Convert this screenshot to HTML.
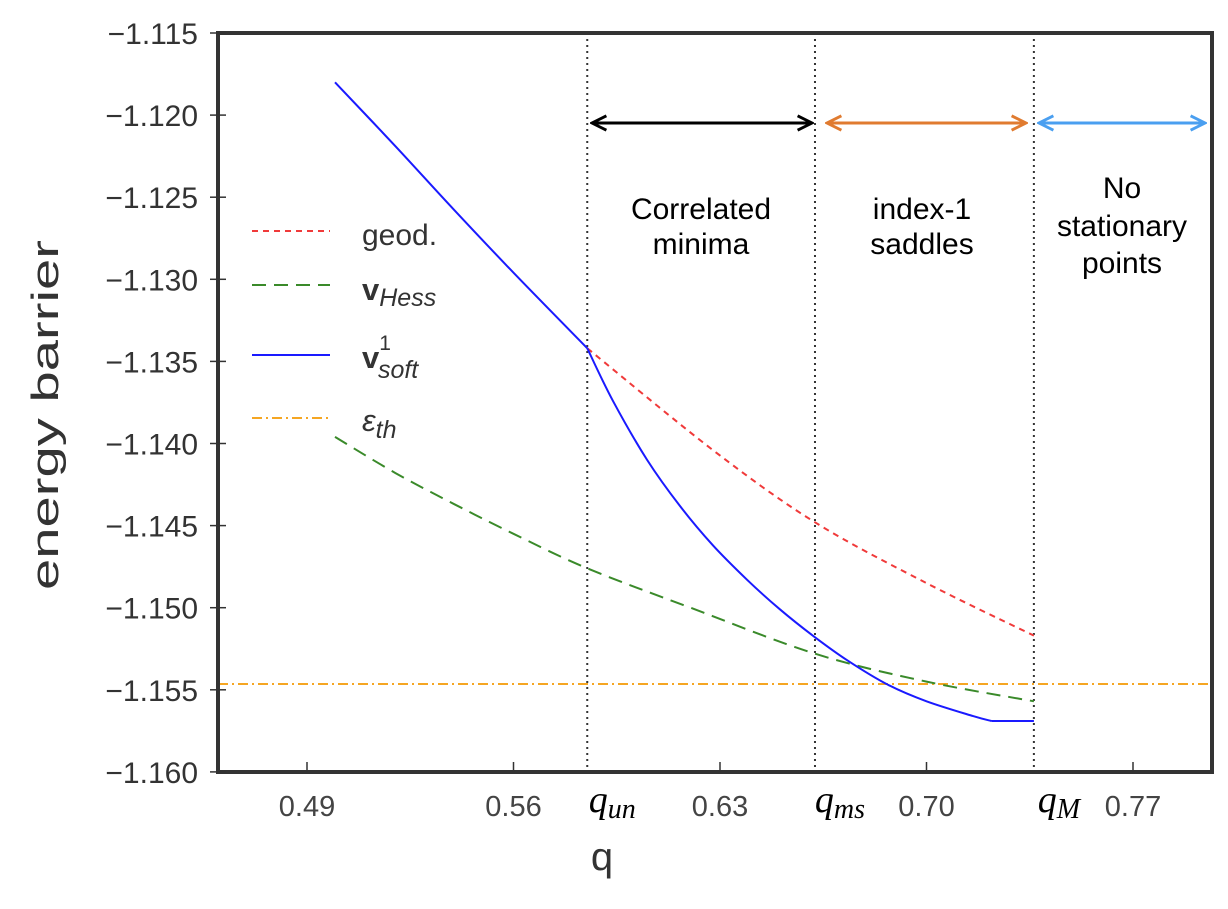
<!DOCTYPE html>
<html><head><meta charset="utf-8"><style>
body{margin:0;background:#fff;}
svg text{font-family:"Liberation Sans",sans-serif;}
</style></head><body>
<svg id="chart" width="1228" height="904" viewBox="0 0 1228 904" xmlns="http://www.w3.org/2000/svg">
<defs>
<marker id="ahK" viewBox="0 0 10 10" refX="9" refY="5" markerWidth="6" markerHeight="6" orient="auto-start-reverse"><path d="M1,1 L9,5 L1,9" fill="none" stroke="#000" stroke-width="1.6"/></marker>
<marker id="ahO" viewBox="0 0 10 10" refX="9" refY="5" markerWidth="6" markerHeight="6" orient="auto-start-reverse"><path d="M1,1 L9,5 L1,9" fill="none" stroke="#e07b30" stroke-width="1.6"/></marker>
<marker id="ahB" viewBox="0 0 10 10" refX="9" refY="5" markerWidth="6" markerHeight="6" orient="auto-start-reverse"><path d="M1,1 L9,5 L1,9" fill="none" stroke="#4a9ff0" stroke-width="1.6"/></marker>
</defs>
<g id="plot"></g>
</svg>
<script>
const xTicks=[0.49,0.56,0.63,0.70,0.77];
const xTickLabels=["0.49","0.56","0.63","0.70","0.77"];
const yTicks=[-1.115,-1.120,-1.125,-1.130,-1.135,-1.140,-1.145,-1.150,-1.155,-1.160];
const yTickLabels=["\u22121.115","\u22121.120","\u22121.125","\u22121.130","\u22121.135","\u22121.140","\u22121.145","\u22121.150","\u22121.155","\u22121.160"];
const markers=[0.585,0.6622,0.7364];
const markerLabels=["un","ms","M"];
const softUpperQ=[0.4995,0.52,0.54,0.56,0.585];
const softUpperV=[-1.1180,-1.1219,-1.1258,-1.1296,-1.1342];
const softQ=[0.585,0.5937,0.6053,0.6164,0.6276,0.6392,0.6503,0.6622,0.6731,0.687,0.70,0.7158,0.722];
const softV=[-1.1342,-1.1374,-1.1410,-1.1438,-1.1462,-1.1483,-1.1501,-1.1518,-1.1532,-1.1547,-1.1557,-1.1566,-1.1569];
const softFlatQ=[0.722,0.7364];
const softFlatV=[-1.1569,-1.1569];
const geodQ=[0.585,0.6276,0.6622,0.70,0.7364];
const geodV=[-1.1342,-1.1404,-1.1448,-1.1485,-1.1517];
const hessQ=[0.4995,0.52,0.54,0.56,0.585,0.62,0.6622,0.70,0.7364];
const hessV=[-1.1396,-1.1418,-1.1437,-1.1455,-1.1476,-1.1500,-1.1528,-1.1545,-1.1557];
const epsTh=-1.15465;

const L=218,R=1212,T=33,B=772;
const X=q=>307+(q-0.49)*2950;
const Y=v=>33+(-1.115-v)/0.005*82.1;
const NS="http://www.w3.org/2000/svg";
const svg=document.getElementById('chart');
const g=document.getElementById('plot');
function mk(tag,attrs,parent){const e=document.createElementNS(NS,tag);for(const k in attrs)e.setAttribute(k,attrs[k]);(parent||g).appendChild(e);return e;}
function smooth(qs,vs){
 const p=qs.map((q,i)=>[X(q),Y(vs[i])]);
 let d='M'+p[0][0].toFixed(1)+','+p[0][1].toFixed(1);
 for(let i=0;i<p.length-1;i++){
  const p0=p[i-1]||p[i],p1=p[i],p2=p[i+1],p3=p[i+2]||p[i+1];
  const c1=[p1[0]+(p2[0]-p0[0])/6,p1[1]+(p2[1]-p0[1])/6];
  const c2=[p2[0]-(p3[0]-p1[0])/6,p2[1]-(p3[1]-p1[1])/6];
  d+=' C'+c1.map(v=>v.toFixed(1)).join(',')+' '+c2.map(v=>v.toFixed(1)).join(',')+' '+p2[0].toFixed(1)+','+p2[1].toFixed(1);
 }
 return d;
}

markers.forEach((m,i)=>{
 const l=mk('line',{x1:X(m),x2:X(m),y1:T,y2:B,stroke:'#333','stroke-width':2,'stroke-dasharray':'2,4'});
 
 
 const t=mk('text',{x:X(m)+25,y:812,'text-anchor':'middle','font-size':38,'font-style':'italic',style:'font-family:"Liberation Serif",serif'},svg);
 
 
 t.innerHTML='q<tspan font-size="28" dy="6">'+markerLabels[i]+'</tspan>';
});
const eps=mk('line',{x1:L,x2:R,y1:Y(epsTh),y2:Y(epsTh),stroke:'#f5a623','stroke-width':2,'stroke-dasharray':'10,4,2,4'});


const hess=mk('path',{d:smooth(hessQ,hessV),fill:'none',stroke:'#3a8a2a','stroke-width':2,'stroke-dasharray':'14,8'});


const geod=mk('path',{d:smooth(geodQ,geodV),fill:'none',stroke:'#f03a3a','stroke-width':2,'stroke-dasharray':'6,5'});


const soft1=mk('path',{d:smooth(softUpperQ,softUpperV),fill:'none',stroke:'#1a1aff','stroke-width':2});


const soft=mk('path',{d:smooth(softQ,softV),fill:'none',stroke:'#1a1aff','stroke-width':2});


const soft3=mk('path',{d:smooth(softFlatQ,softFlatV),fill:'none',stroke:'#1a1aff','stroke-width':2});



const fr=mk('rect',{x:L,y:T,width:R-L,height:B-T,fill:'none',stroke:'#333','stroke-width':4});


xTicks.forEach((t,i)=>{
 const tk=mk('line',{x1:X(t),x2:X(t),y1:B-10,y2:B,stroke:'#333','stroke-width':1.5});
 
 
 const lb=mk('text',{x:X(t),y:816,'text-anchor':'middle','font-size':29,fill:'#444'});
 
 
 lb.textContent=xTickLabels[i];
});
yTicks.forEach((t,i)=>{
 const tk=mk('line',{x1:L-8,x2:L+8,y1:Y(t),y2:Y(t),stroke:'#333','stroke-width':1.5});
 
 
 const lb=mk('text',{x:L-20,y:Y(t)+11,'text-anchor':'end','font-size':30,fill:'#333'});
 
 
 lb.textContent=yTickLabels[i];
});
</script>
<svg style="position:absolute;left:0;top:0" width="1228" height="904">
<text x="602" y="870" text-anchor="middle" font-size="40" fill="#333" font-family="Liberation Sans, sans-serif">q</text>
<text transform="translate(58,415) rotate(-90)" text-anchor="middle" font-size="38" fill="#333" font-family="Liberation Sans, sans-serif" textLength="350" lengthAdjust="spacingAndGlyphs">energy barrier</text>
<line x1="592" y1="123" x2="812" y2="123" stroke="#000" stroke-width="3" marker-start="url(#ahK)" marker-end="url(#ahK)"/>
<line x1="827" y1="123" x2="1026" y2="123" stroke="#e07b30" stroke-width="3" marker-start="url(#ahO)" marker-end="url(#ahO)"/>
<line x1="1039" y1="123" x2="1205" y2="123" stroke="#4a9ff0" stroke-width="3" marker-start="url(#ahB)" marker-end="url(#ahB)"/>
<g font-family="Liberation Sans, sans-serif" font-size="30" fill="#000" text-anchor="middle">
<text><tspan x="701" y="219">Correlated</tspan><tspan x="701" y="254">minima</tspan></text>
<text><tspan x="922" y="219">index-1</tspan><tspan x="922" y="254">saddles</tspan></text>
<text><tspan x="1122" y="198">No</tspan><tspan x="1122" y="236">stationary</tspan><tspan x="1122" y="273">points</tspan></text>
</g>
<g font-family="DejaVu Sans, sans-serif" fill="#333">
<line x1="252" y1="231" x2="330" y2="231" stroke="#f03a3a" stroke-width="2" stroke-dasharray="6,5"/>
<text x="362" y="245" font-size="30" font-family="Liberation Sans, sans-serif">geod.</text>
<line x1="252" y1="285" x2="330" y2="285" stroke="#3a8a2a" stroke-width="2" stroke-dasharray="14,8"/>
<text x="362" y="300" font-size="31"><tspan font-weight="bold">v</tspan><tspan font-style="italic" font-size="25" dy="6">Hess</tspan></text>
<line x1="252" y1="355" x2="330" y2="355" stroke="#1a1aff" stroke-width="2"/>
<text x="362" y="368" font-size="31"><tspan font-weight="bold">v</tspan><tspan font-size="21" dy="-18">1</tspan><tspan font-style="italic" font-size="25" dx="-13" dy="28">soft</tspan></text>
<line x1="252" y1="418" x2="330" y2="418" stroke="#f5a623" stroke-width="2" stroke-dasharray="10,4,2,4"/>
<text x="362" y="431" font-size="31" font-style="italic">ε<tspan font-size="25" dy="7">th</tspan></text>
</g>
</svg>
</body></html>
